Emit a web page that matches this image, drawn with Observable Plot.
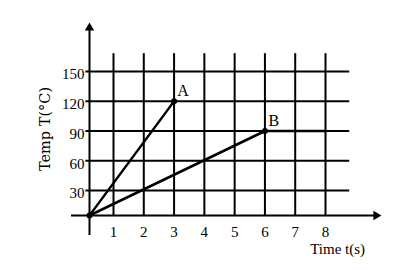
<!DOCTYPE html>
<html>
<head>
<meta charset="utf-8">
<script src="https://cdn.jsdelivr.net/npm/d3@7"></script>
<script src="https://cdn.jsdelivr.net/npm/@observablehq/plot@0.6"></script>
<style>
  html, body { margin: 0; padding: 0; background: #fff; }
  #chart svg { display: block; }
</style>
</head>
<body>
<div id="chart"></div>
<script>
// ---- data ----
const xTicks = [1, 2, 3, 4, 5, 6, 7, 8];
const yTicks = [30, 60, 90, 120, 150];
const lineA = [{t: 0, T: 0}, {t: 3, T: 120}];
const lineB = [{t: 0, T: 0}, {t: 6, T: 90}, {t: 8, T: 90}];
const points = [{t: 0, T: 0, label: ""}, {t: 3, T: 120, label: "A"}, {t: 6, T: 90, label: "B"}];
const xTitle = "Time t(s)";
const yTitle = "Temp T(°C)";

// extents of axis/grid lines in data units
const gridXEnd = 8.8, gridYEnd = 168;
const axisXStart = -0.75, axisXEnd = 9.67;
const axisYStart = -24, axisYEnd = 194;

const chart = Plot.plot({
  width: 408,
  height: 270,
  marginLeft: 89, marginRight: 83, marginTop: 71, marginBottom: 55,
  x: {type: "linear", domain: [0, 1, 8], range: [89, 113, 325], axis: null},
  y: {type: "linear", domain: [0, 30, 150], range: [215, 190, 71], axis: null},
  style: {background: "white", color: "black", fontFamily: "'Liberation Serif', serif", fontSize: "15px"},
  marks: [
    Plot.ruleY(yTicks, {x1: -0.15, x2: gridXEnd, stroke: "black", strokeWidth: 2}),
    Plot.ruleX(xTicks, {y1: 0, y2: gridYEnd, stroke: "black", strokeWidth: 2}),
    Plot.ruleY([0], {x1: axisXStart, x2: axisXEnd, stroke: "black", strokeWidth: 2}),
    Plot.ruleX([0], {y1: axisYStart, y2: axisYEnd, stroke: "black", strokeWidth: 2}),
    Plot.dot([{x: axisXEnd, y: 0}], {x: "x", y: "y", symbol: "triangle", rotate: 90, r: 3.5, fill: "black", stroke: "none"}),
    Plot.dot([{x: 0, y: axisYEnd}], {x: "x", y: "y", symbol: "triangle", rotate: 0, r: 3.5, fill: "black", stroke: "none"}),
    Plot.line(lineA, {x: "t", y: "T", stroke: "black", strokeWidth: 2.3}),
    Plot.line(lineB, {x: "t", y: "T", stroke: "black", strokeWidth: 2.5}),
    Plot.dot(points, {x: "t", y: "T", r: 3, fill: "black", stroke: "none"}),
    Plot.text(points, {x: "t", y: "T", text: "label", dx: 9, dy: -10, fontSize: 16}),
    Plot.text(yTicks, {x: 0, y: d => d, text: d => String(d), textAnchor: "end", dx: -5, dy: 3}),
    Plot.text(xTicks, {x: d => d, y: 0, text: d => String(d), dy: 17}),
    Plot.text([xTitle], {x: 8.4, y: 0, text: d => d, dy: 34}),
    Plot.text([yTitle], {x: -1.83, y: 92, text: d => d, rotate: -90, fontFamily: "'DejaVu Serif', serif", fontSize: 14.5})
  ]
});
document.getElementById("chart").append(chart);
</script>
</body>
</html>
